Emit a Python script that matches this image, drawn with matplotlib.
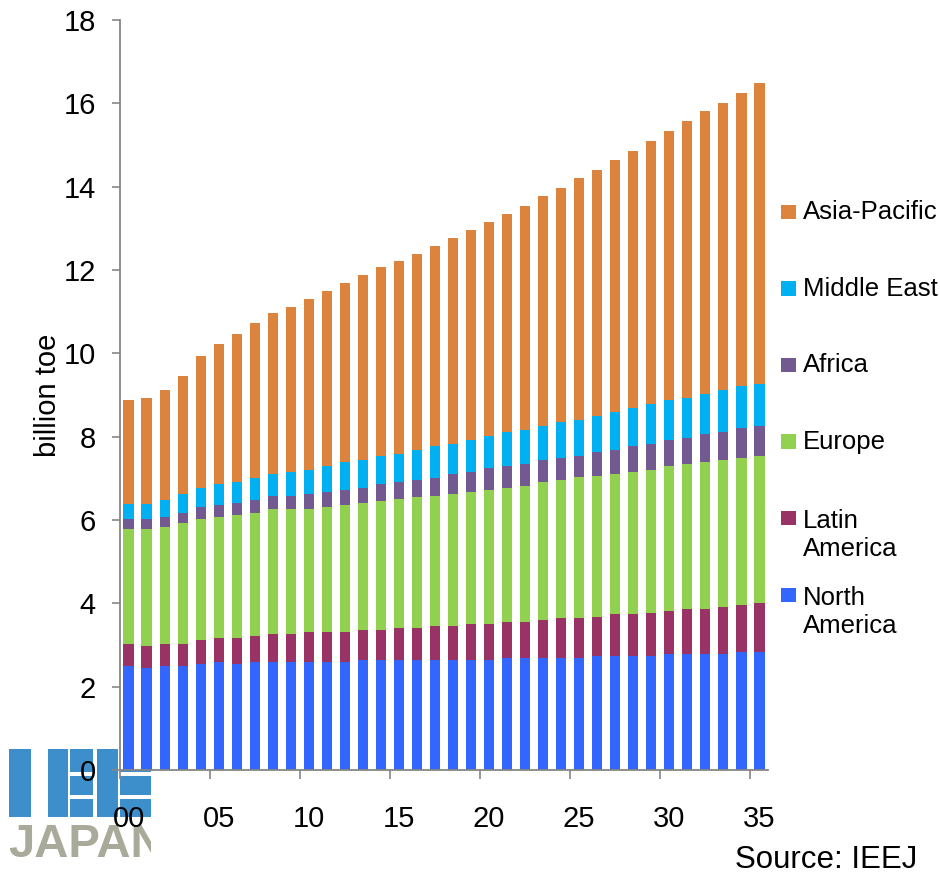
import numpy as np
import matplotlib
matplotlib.use("Agg")
import matplotlib.pyplot as plt
from matplotlib.patches import Rectangle
from matplotlib.ticker import FixedLocator, NullFormatter

plt.rcParams['font.family'] = ['Liberation Sans', 'DejaVu Sans']

# ---------------- data (billion toe) ----------------
years = list(range(2000, 2036))
regions = ["North America", "Latin America", "Europe", "Africa", "Middle East", "Asia-Pacific"]
legend_labels = ["North\nAmerica", "Latin\nAmerica", "Europe", "Africa", "Middle East", "Asia-Pacific"]
colors = ["#3366ff", "#993366", "#92d050", "#725990", "#00b0f0", "#dc843e"]

north_america = [2.50, 2.46, 2.50, 2.50, 2.55, 2.60, 2.55, 2.60, 2.60, 2.60, 2.60, 2.60,
                 2.60, 2.65, 2.65, 2.65, 2.65, 2.65, 2.65, 2.65, 2.65, 2.70, 2.70, 2.70,
                 2.70, 2.70, 2.74, 2.74, 2.74, 2.74, 2.79, 2.79, 2.79, 2.79, 2.84, 2.84]
latin_america = [0.52, 0.52, 0.52, 0.52, 0.57, 0.57, 0.62, 0.62, 0.66, 0.66, 0.71, 0.71,
                 0.71, 0.71, 0.71, 0.76, 0.76, 0.81, 0.81, 0.86, 0.86, 0.86, 0.86, 0.91,
                 0.95, 0.95, 0.94, 1.01, 1.01, 1.04, 1.03, 1.08, 1.08, 1.13, 1.13, 1.17]
europe = [2.76, 2.80, 2.81, 2.91, 2.90, 2.90, 2.95, 2.95, 3.00, 3.00, 2.95, 3.00,
          3.05, 3.05, 3.10, 3.09, 3.14, 3.12, 3.17, 3.17, 3.22, 3.21, 3.26, 3.31,
          3.32, 3.39, 3.38, 3.36, 3.41, 3.43, 3.48, 3.48, 3.53, 3.53, 3.52, 3.53]
africa = [0.24, 0.24, 0.24, 0.24, 0.29, 0.29, 0.29, 0.32, 0.32, 0.32, 0.37, 0.37,
          0.37, 0.37, 0.41, 0.42, 0.42, 0.44, 0.48, 0.48, 0.52, 0.53, 0.53, 0.53,
          0.53, 0.50, 0.58, 0.58, 0.62, 0.62, 0.63, 0.62, 0.67, 0.67, 0.72, 0.72]
middle_east = [0.37, 0.37, 0.42, 0.46, 0.47, 0.51, 0.51, 0.53, 0.53, 0.58, 0.58, 0.62,
               0.67, 0.66, 0.67, 0.67, 0.72, 0.76, 0.72, 0.77, 0.77, 0.82, 0.82, 0.81,
               0.86, 0.87, 0.86, 0.91, 0.91, 0.96, 0.96, 0.96, 0.96, 1.01, 1.01, 1.01]
asia_pacific = [2.49, 2.54, 2.63, 2.83, 3.16, 3.35, 3.54, 3.71, 3.86, 3.95, 4.09, 4.20,
                4.29, 4.44, 4.53, 4.63, 4.70, 4.80, 4.94, 5.03, 5.13, 5.22, 5.36, 5.51,
                5.61, 5.80, 5.90, 6.04, 6.16, 6.30, 6.44, 6.64, 6.79, 6.88, 7.03, 7.22]

series = [north_america, latin_america, europe, africa, middle_east, asia_pacific]

y_ticks = [0, 2, 4, 6, 8, 10, 12, 14, 16, 18]
x_label_years = [2000, 2005, 2010, 2015, 2020, 2025, 2030, 2035]

# ---------------- figure ----------------
W, H = 940, 877
fig = plt.figure(figsize=(W / 100, H / 100), dpi=100)
fig.patch.set_facecolor("white")

# background logo (drawn behind the chart)
bg = fig.add_axes([0, 0, 1, 1], zorder=-1)
bg.set_xlim(0, W)
bg.set_ylim(H, 0)
bg.axis("off")
logo_blue = "#3d8fcb"
for (x0, y0, w, h) in [(9, 749, 22, 68),
                       (48, 749, 20, 68), (70, 749, 23, 23), (70, 776, 23, 19), (70, 799, 23, 18),
                       (97, 749, 21, 68), (120, 749, 31, 23), (120, 776, 31, 19), (120, 799, 31, 18)]:
    bg.add_patch(Rectangle((x0, y0), w, h, facecolor=logo_blue, edgecolor="none", zorder=1))
bg.text(8, 857, "JAPAN", fontsize=34, fontweight="bold", color="#aaaa9a",
        ha="left", va="baseline", zorder=2)
# the logo image ends at x=151: mask the overflow of the lettering
bg.add_patch(Rectangle((151, 815), 60, 55, facecolor="white", edgecolor="none", zorder=3))

# main axes
left_px, right_px, top_px, bottom_px = 119.5, 768.5, 20, 770
ax = fig.add_axes([left_px / W, 1 - bottom_px / H, (right_px - left_px) / W, (bottom_px - top_px) / H])
ax.set_facecolor("white")

x = np.arange(len(years))
bottom = np.zeros(len(years))
for vals, col, name in zip(series, colors, regions):
    v = np.array(vals)
    ax.bar(x, v, width=0.56, bottom=bottom, color=col, edgecolor="none", label=name, zorder=2)
    bottom += v

ax.set_xlim(-0.5, len(years) - 0.5)
ax.set_ylim(0, 18)

for s in ["top", "right"]:
    ax.spines[s].set_visible(False)
for s in ["left", "bottom"]:
    ax.spines[s].set_color("#868686")
    ax.spines[s].set_linewidth(1.3)

# y axis
ax.set_yticks(y_ticks)
ax.set_yticklabels([str(t) for t in y_ticks])
ax.tick_params(axis="y", direction="out", length=6, width=1.2, color="#868686",
               labelsize=21, pad=11)

# x axis: labels at every 5th category, tick marks on category boundaries
label_pos = [years.index(y) for y in x_label_years]
ax.set_xticks(label_pos)
ax.set_xticklabels([f"{y % 100:02d}" for y in x_label_years])
ax.tick_params(axis="x", which="major", length=0, labelsize=21, pad=25)
ax.xaxis.set_minor_locator(FixedLocator([p - 0.5 for p in label_pos]))
ax.xaxis.set_minor_formatter(NullFormatter())
ax.tick_params(axis="x", which="minor", direction="out", length=6.5, width=1.2, color="#868686")

ax.set_ylabel("billion toe", fontsize=21)
ax.yaxis.set_label_coords(-0.089, 0.5)

# legend (manual, top entry = last series)
sq = 14.5
fs_leg = 18.5
line_px = 1.2 * fs_leg * 100 / 72
base_y, step = 219, 76.6
for i, idx in enumerate(range(len(regions) - 1, -1, -1)):
    by = base_y + i * step
    fig.patches.append(Rectangle((781 / W, 1 - by / H), sq / W, sq / H,
                                 transform=fig.transFigure, facecolor=colors[idx],
                                 edgecolor="none", figure=fig))
    n_extra = legend_labels[idx].count("\n")
    ty = by + n_extra * line_px
    fig.text(803 / W, 1 - ty / H, legend_labels[idx], fontsize=fs_leg, ha="left",
             va="baseline", linespacing=1.2, color="black")

fig.text(917 / W, 1 - 875.5 / H, "Source: IEEJ", fontsize=22.5, ha="right", va="bottom")

fig.savefig("out.png", dpi=100, facecolor="white")
